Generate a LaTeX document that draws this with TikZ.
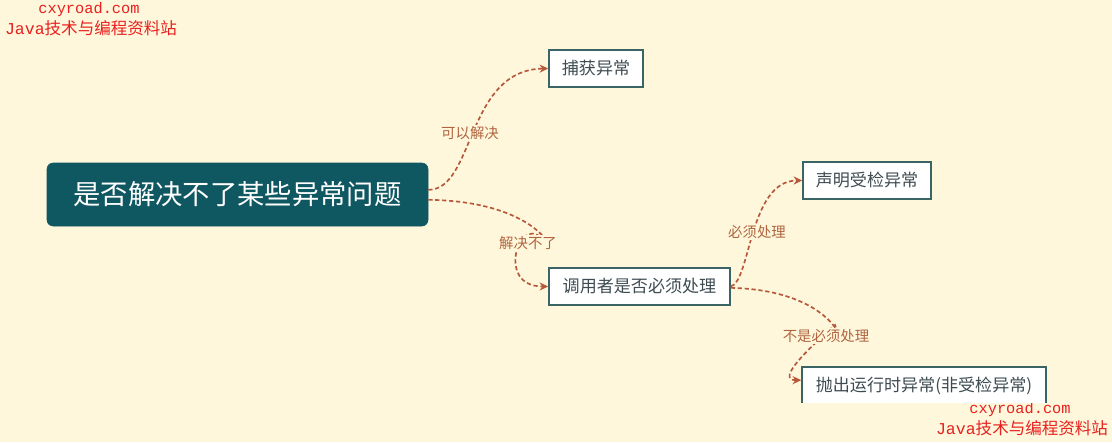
\documentclass[tikz,border=0pt]{standalone}
\usepackage{fontspec}
\setmainfont{Noto Sans CJK SC}
\newfontfamily\cjk{Noto Sans CJK SC}
\newfontfamily\wmono{Liberation Mono}
\usetikzlibrary{arrows.meta}
\definecolor{bg}{HTML}{FEF7DC}
\definecolor{rootfill}{HTML}{0F5761}
\definecolor{boxline}{HTML}{3B6466}
\definecolor{boxtext}{HTML}{3E4C52}
\definecolor{edgecol}{HTML}{B5583C}
\definecolor{labcol}{HTML}{B0653F}
\definecolor{wmred}{HTML}{E8201E}
\tikzset{
  rootbox/.style={draw=rootfill, fill=rootfill, rounded corners=4.5pt, minimum width=285.75pt, minimum height=47.25pt, inner sep=0pt, text=white, font=\cjk\fontsize{20.5pt}{24pt}\selectfont},
  leafbox/.style={draw=boxline, line width=1.1pt, fill=white, minimum height=27.75pt, inner sep=0pt, text=boxtext, font=\cjk\fontsize{12.8pt}{15pt}\selectfont},
  lab/.style={fill=bg, inner sep=1pt, text=labcol, font=\cjk\fontsize{10.8pt}{13pt}\selectfont},
  conn/.style={draw=edgecol, line width=1.25pt, dash pattern=on 3.2pt off 2pt, -{Stealth[length=6.5pt,width=6pt]}},
  wm/.style={text=wmred, inner sep=0pt}
}
\begin{document}
\begin{tikzpicture}[x=0.75pt,y=-0.75pt]
\fill[bg] (0,0) rectangle (1112,442);
\useasboundingbox (0,0) rectangle (1112,442);
% watermarks
\node[wm, font=\fontsize{11.5pt}{13pt}\selectfont] (wm1) at (89,10) {\wmono cxyroad.com};
\node[wm, font=\fontsize{12.4pt}{14pt}\selectfont] (wm2) at (91,28) {\wmono Java\cjk 技术与编程资料站};
\node[wm, font=\fontsize{11.5pt}{13pt}\selectfont] (wm3) at (1020,410) {\wmono cxyroad.com};
\node[wm, font=\fontsize{12.4pt}{14pt}\selectfont] (wm4) at (1022,428) {\wmono Java\cjk 技术与编程资料站};
% nodes
\node[rootbox] (root) at (237.5,194.5) {是否解决不了某些异常问题};
\node[leafbox, minimum width=70.5pt] (a) at (596,68.5) {捕获异常};
\node[leafbox, minimum width=96pt] (c) at (867,180.5) {声明受检异常};
\node[leafbox, minimum width=135.75pt] (b) at (639.5,286.5) {调用者是否必须处理};
\begin{scope}
\clip (0,0) rectangle (1112,402.5);
\node[leafbox, minimum width=183pt] (d) at (924,385.5) {抛出运行时异常(非受检异常)};
\end{scope}
% connectors
\draw[conn] ([yshift=3.5pt]root.east) .. controls +(35pt,0) and +(-62pt,-1pt) .. (a.west);
\draw[conn] ([yshift=-4pt]root.east) .. controls +(84pt,-1pt) and +(12pt,-15pt) .. (541,238) .. controls +(-16pt,17pt) and +(-40pt,0) .. (b.west);
\draw[conn] (b.east) .. controls +(15pt,4pt) and +(-40pt,0) .. (c.west);
\draw[conn] ([yshift=-1pt]b.east) .. controls +(80pt,-2pt) and +(6pt,-20pt) .. (835,325) .. controls +(-18pt,-16pt) and +(-20pt,0) .. ([yshift=4pt]d.west);
% labels on top of connectors
\node[lab] (l1) at (470,133) {可以解决};
\node[lab] (l2) at (528,243) {解决不了};
\node[lab] (l3) at (757,232) {必须处理};
\node[lab] (l4) at (826,336) {不是必须处理};
\end{tikzpicture}
\end{document}
